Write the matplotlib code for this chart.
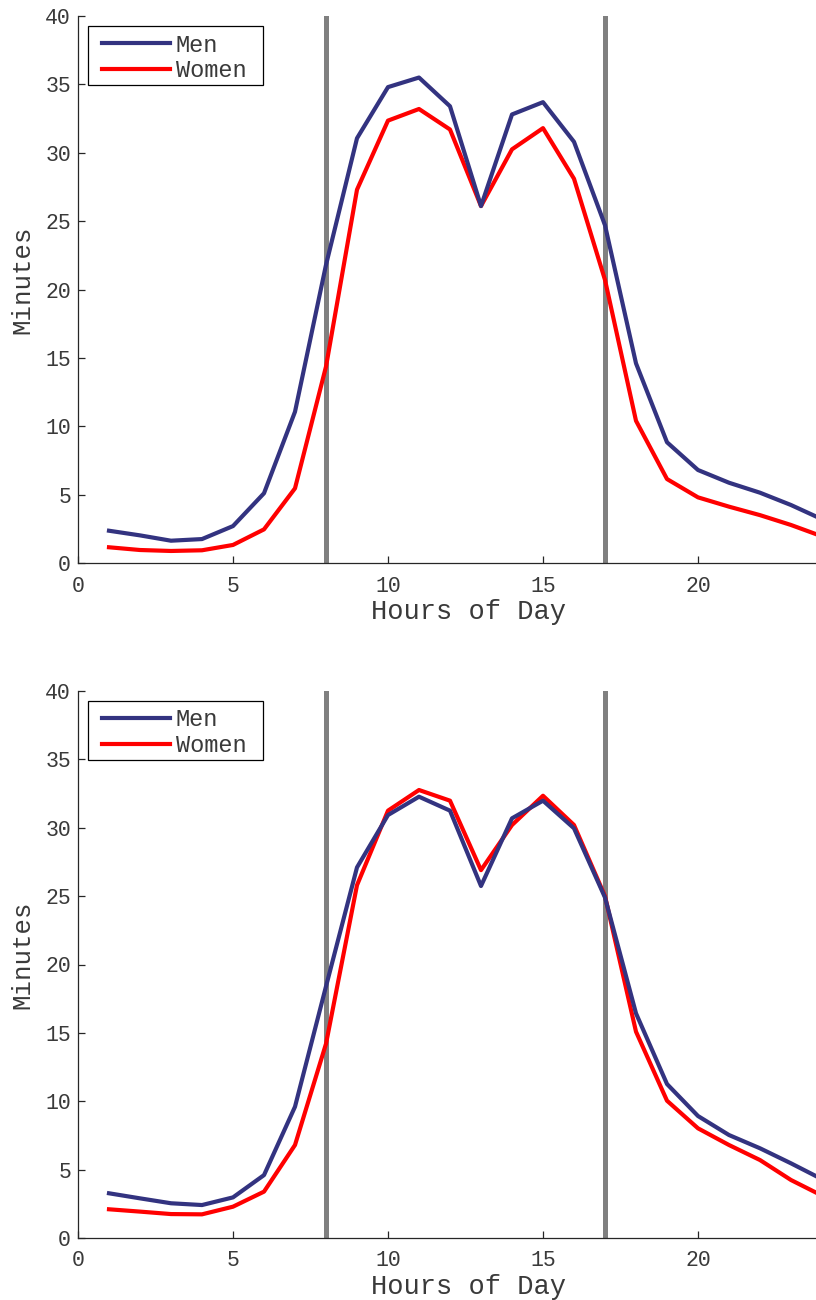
import matplotlib
matplotlib.use('Agg')
import matplotlib.pyplot as plt
from matplotlib.patches import Rectangle

# hourly minutes, men vs women (two groups)
hours = list(range(1, 25))

men_top = [2.36, 2.02, 1.63, 1.75, 2.7, 5.1, 11.06, 21.8, 31.06, 34.8, 35.5, 33.4,
           26.1, 32.8, 33.7, 30.8, 24.7, 14.6, 8.83, 6.8, 5.87, 5.14, 4.24, 3.2]
women_top = [1.15, 0.95, 0.88, 0.93, 1.32, 2.46, 5.46, 14.36, 27.3, 32.35, 33.2, 31.7,
             26.1, 30.25, 31.8, 28.1, 20.7, 10.4, 6.14, 4.8, 4.12, 3.5, 2.78, 1.95]

men_bot = [3.27, 2.9, 2.54, 2.41, 2.97, 4.6, 9.6, 18.4, 27.1, 30.93, 32.27, 31.25,
           25.74, 30.69, 31.98, 29.96, 24.9, 16.43, 11.26, 8.92, 7.53, 6.56, 5.46, 4.3]
women_bot = [2.1, 1.93, 1.75, 1.73, 2.29, 3.39, 6.8, 14.2, 25.8, 31.25, 32.76, 31.98,
             26.9, 30.2, 32.34, 30.2, 25.0, 15.09, 10.04, 8.02, 6.8, 5.7, 4.24, 3.1]

work_start = 8
work_end = 17

plt.rcParams['font.family'] = ['Liberation Mono', 'DejaVu Sans Mono']
AXC = '#262626'
TXT = '#3a3a3a'

fig = plt.figure(figsize=(8.16, 13.0), dpi=100)

W, H = 816.0, 1300.0
# axes boxes in pixels: left, top, right, bottom
boxes = [(78, 16, 853, 563), (78, 691, 853, 1238)]
panels = [(men_top, women_top), (men_bot, women_bot)]

for (l, t, r, b), (men, women) in zip(boxes, panels):
    aw, ah = float(r - l), float(b - t)
    ax = fig.add_axes([l / W, 1 - b / H, aw / W, ah / H])

    ax.axvline(work_start, color='#808080', lw=3.6, zorder=1)
    ax.axvline(work_end, color='#808080', lw=3.6, zorder=1)
    ax.plot(hours, men, color='#333380', lw=3, label='Men', zorder=3)
    ax.plot(hours, women, color='#ff0000', lw=3, label='Women', zorder=2)

    ax.set_xlim(0, 25)
    ax.set_ylim(0, 40)
    ax.set_xticks([0, 5, 10, 15, 20])
    ax.set_yticks(range(0, 41, 5))

    for s in ['top', 'right']:
        ax.spines[s].set_visible(False)
    for s in ['left', 'bottom']:
        ax.spines[s].set_color(AXC)
        ax.spines[s].set_linewidth(0.9)

    ax.tick_params(direction='in', length=5.3, width=0.9, color=AXC,
                   labelcolor=TXT, labelsize=15.5)
    ax.tick_params(axis='x', pad=9)
    ax.tick_params(axis='y', pad=5)

    ax.set_xlabel('Hours of Day', fontsize=19.5, color=TXT)
    ax.xaxis.set_label_coords(0.5045, -0.066)
    ax.set_ylabel('Minutes', fontsize=18.5, color=TXT)
    ax.yaxis.set_label_coords(-0.056, 0.517)

    # legend box drawn separately, entries placed inside it
    ax.add_patch(Rectangle((10 / aw, 1 - 69 / ah), 175 / aw, 59 / ah,
                           transform=ax.transAxes, facecolor='white',
                           edgecolor='black', lw=0.9, zorder=4))
    leg = ax.legend(loc='upper left', bbox_to_anchor=(24 / aw, 1 - 17.5 / ah),
                    borderaxespad=0, borderpad=0, fontsize=17, handlelength=2.88,
                    handletextpad=0.25, labelspacing=0.115, frameon=False)
    leg.set_zorder(5)
    for txt in leg.get_texts():
        txt.set_color(TXT)

fig.savefig('out.png', dpi=100)
